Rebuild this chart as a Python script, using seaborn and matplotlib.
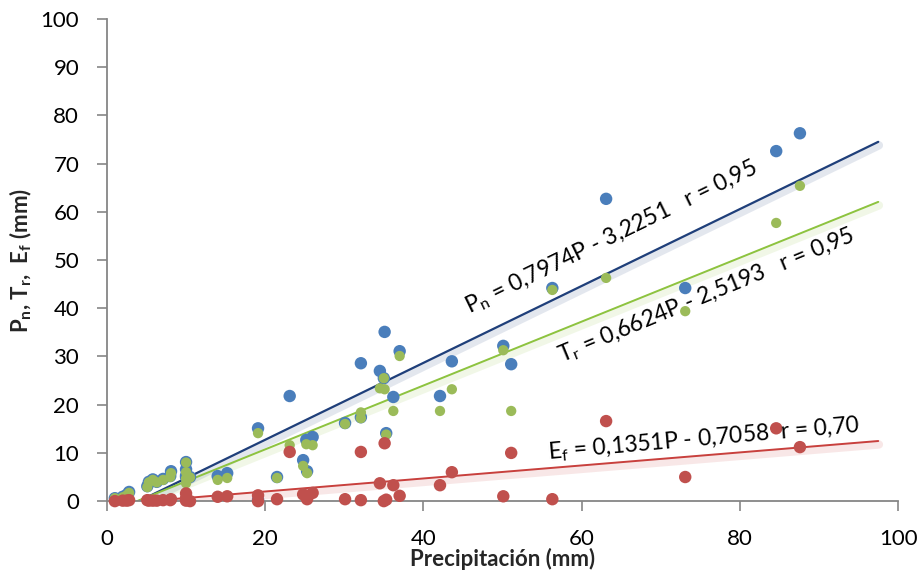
import numpy as np
import pandas as pd
import matplotlib
matplotlib.use("Agg")
import matplotlib.pyplot as plt
import matplotlib.patheffects as pe
import seaborn as sns

# ---- data ----
P  = [1.0, 2.0, 2.5, 2.8, 5.1, 5.3, 5.8, 6.3, 7.1, 8.1, 8.0, 10.0, 10.0, 10.0, 10.0, 10.5,
      14.0, 15.2, 19.1, 19.1, 21.5, 23.1, 24.8, 25.3, 25.2, 26.0, 30.1, 32.1, 32.1, 34.5,
      35.1, 35.0, 35.3, 36.2, 37.0, 42.1, 43.6, 50.1, 51.1, 56.3, 63.1, 73.1, 84.6, 87.6]
Pn = [0.6, 0.9, 1.3, 1.9, 3.1, 4.0, 4.5, 4.0, 4.6, 6.2, 5.2, 8.1, 6.6, 5.0, 5.3, 5.0,
      5.2, 5.8, 15.1, 0.3, 5.0, 21.8, 8.5, 6.2, 12.7, 13.3, 16.2, 28.6, 17.4, 27.0,
      35.1, 25.5, 14.1, 21.6, 31.1, 21.8, 29.0, 32.2, 28.4, 44.2, 62.7, 44.2, 72.6, 76.3]
Tr = [0.6, 0.8, 1.2, 1.7, 2.9, 3.9, 4.4, 3.9, 4.4, 5.8, 5.0, 8.0, 6.0, 4.7, 3.7, 4.9,
      4.4, 4.8, 14.1, 0.3, 4.8, 11.6, 7.3, 5.8, 11.8, 11.6, 16.0, 18.4, 17.2, 23.4,
      23.2, 25.5, 13.8, 18.7, 30.1, 18.7, 23.2, 31.3, 18.7, 43.8, 46.3, 39.4, 57.7, 65.4]
Ef = [0.0, 0.1, 0.1, 0.2, 0.2, 0.1, 0.1, 0.1, 0.2, 0.4, 0.2, 0.1, 0.6, 0.3, 1.6, 0.0,
      0.9, 1.0, 1.2, 0.0, 0.4, 10.2, 1.4, 0.4, 0.9, 1.7, 0.4, 10.2, 0.2, 3.7,
      12.0, 0.0, 0.3, 3.3, 1.1, 3.3, 6.0, 1.0, 10.0, 0.4, 16.6, 5.0, 15.1, 11.2]

series_names = ["Pn", "Tr", "Ef"]
slopes = [0.7974, 0.6624, 0.1351]
intercepts = [-3.2251, -2.5193, -0.7058]
labels = [r"P$_\mathrm{n}$ = 0,7974P - 3,2251   r = 0,95",
          r"T$_\mathrm{r}$ = 0,6624P - 2,5193   r = 0,95",
          r"E$_\mathrm{f}$ = 0,1351P - 0,7058  r = 0,70"]
xticks = [0, 20, 40, 60, 80, 100]
yticks = [0, 10, 20, 30, 40, 50, 60, 70, 80, 90, 100]

# ---- style ----
sns.set_theme(style="white")
plt.rcParams["font.family"] = ["Lato", "DejaVu Sans"]
plt.rcParams["mathtext.fontset"] = "custom"
plt.rcParams["mathtext.rm"] = "Lato"
plt.rcParams["mathtext.it"] = "Lato:italic"
plt.rcParams["mathtext.bf"] = "Lato:bold"

marker_colors = {"Pn": "#4A7EBB", "Tr": "#9BBB59", "Ef": "#C0504D"}
line_colors = {"Pn": "#1F3F7A", "Tr": "#8DC33F", "Ef": "#C8403D"}
marker_sizes = {"Pn": 80, "Tr": 55, "Ef": 80}

fig = plt.figure(figsize=(9.22, 5.76), dpi=100)
ax = fig.add_axes([0.116, 0.130, 0.858, 0.837])

df = pd.DataFrame({"P": P, "Pn": Pn, "Tr": Tr, "Ef": Ef})
long = df.melt(id_vars="P", value_vars=series_names, var_name="serie", value_name="valor")

for name in series_names:
    sub = long[long["serie"] == name]
    sns.scatterplot(data=sub, x="P", y="valor", ax=ax, color=marker_colors[name],
                    s=marker_sizes[name], edgecolor="none", linewidth=0, zorder=3,
                    legend=False, clip_on=False)

xl = np.array([0.0, 97.5])
for name, m, b in zip(series_names, slopes, intercepts):
    lw = 1.6 if name == "Pn" else 1.4
    sns.lineplot(x=xl, y=m * xl + b, ax=ax, color=line_colors[name], linewidth=lw,
                 zorder=2, legend=False,
                 path_effects=[pe.SimpleLineShadow(offset=(0.5, -2.5), shadow_color=line_colors[name],
                                                   alpha=0.12, linewidth=6),
                               pe.Normal()])

# equations
text_pos = [(63.8, 54.6, 26.0), (75.8, 42.6, 22.5), (75.5, 12.9, 5.0)]
for lab, (tx, ty, rot) in zip(labels, text_pos):
    ax.text(tx, ty, lab, rotation=rot, rotation_mode="anchor", ha="center", va="center",
            fontsize=16.5, color="black", zorder=4)

ax.set_xlim(0, 100)
ax.set_ylim(0, 100)
ax.set_xticks(xticks)
ax.set_yticks(yticks)
ax.tick_params(axis="both", which="major", direction="out", length=7, width=1.2,
               color="#868686", labelsize=16, labelcolor="black",
               bottom=True, left=True)
ax.tick_params(axis="y", pad=13)
ax.tick_params(axis="x", pad=13)

for side in ["top", "right"]:
    ax.spines[side].set_visible(False)
for side in ["left", "bottom"]:
    ax.spines[side].set_color("#868686")
    ax.spines[side].set_linewidth(1.3)

ax.set_xlabel("Precipitación (mm)", fontsize=16, fontweight="bold")
ax.set_ylabel(r"P$_\mathbf{n}$, T$_\mathbf{r}$,  E$_\mathbf{f}$ (mm)", fontsize=16,
              fontweight="bold")
ax.xaxis.set_label_coords(0.5, -0.097)
ax.yaxis.set_label_coords(-0.092, 0.5)
ax.grid(False)

fig.savefig("out.png", dpi=100)
